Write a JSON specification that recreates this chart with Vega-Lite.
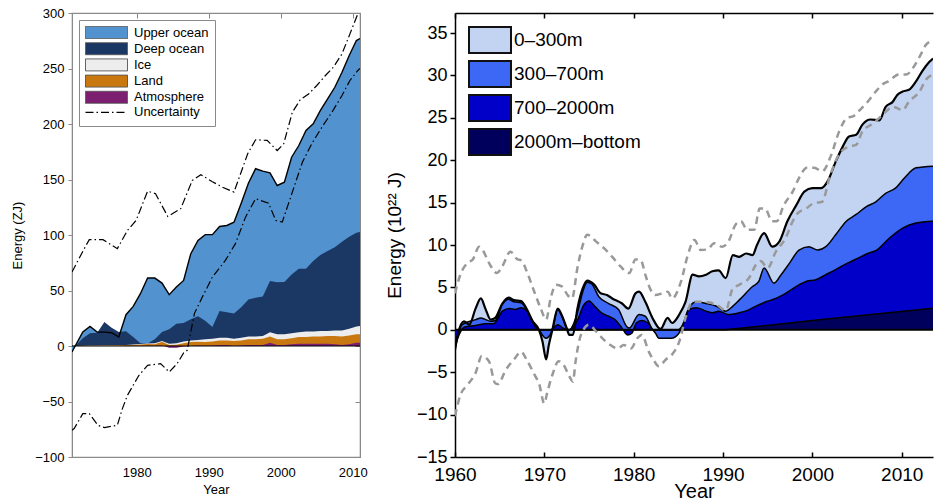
{
  "$schema": "https://vega.github.io/schema/vega-lite/v6.json",
  "padding": {"left": 11, "top": 6, "right": 0, "bottom": 0},
  "background": "white",
  "bounds": "flush",
  "spacing": 95,
  "config": {
    "font": "Liberation Sans",
    "axis": {"grid": false, "titleFontWeight": "normal", "labelColor": "black", "titleColor": "black"},
    "legend": {"titleFontWeight": "normal"}
  },
  "datasets": {
    "L": [
      {"x":1971,"t":-5.4,"d":0,"i":0,"l":0,"a":0},
      {"x":1971.5,"t":0.7,"d":0.5,"i":0.1,"l":0.1,"a":0},
      {"x":1972.5,"t":12.6,"d":7,"i":0.3,"l":0.2,"a":0},
      {"x":1973.5,"t":17.7,"d":11.5,"i":0.4,"l":0.3,"a":0},
      {"x":1974.5,"t":12.6,"d":12,"i":0.5,"l":0.3,"a":0},
      {"x":1975.5,"t":12.5,"d":21.6,"i":0.6,"l":0.4,"a":0},
      {"x":1976.5,"t":12,"d":16.5,"i":0.7,"l":0.5,"a":0},
      {"x":1977.5,"t":8.1,"d":12.6,"i":0.8,"l":0.6,"a":0},
      {"x":1978.5,"t":28.2,"d":13.2,"i":1,"l":0.8,"a":0},
      {"x":1979.5,"t":35.7,"d":8,"i":1.3,"l":1,"a":0},
      {"x":1980.5,"t":47.1,"d":2.5,"i":1.8,"l":1.3,"a":0},
      {"x":1981.5,"t":61.2,"d":2.3,"i":2.2,"l":1.8,"a":0.2},
      {"x":1982.5,"t":61.2,"d":6,"i":2.5,"l":1.6,"a":0.2},
      {"x":1983.5,"t":56.7,"d":12.6,"i":4.5,"l":3.8,"a":0.5},
      {"x":1984.5,"t":46.2,"d":15,"i":2,"l":1,"a":-1.5},
      {"x":1985.5,"t":53.1,"d":20.1,"i":2.5,"l":1.2,"a":-1.5},
      {"x":1986.5,"t":59.1,"d":20.7,"i":4,"l":2.5,"a":-0.5},
      {"x":1987.5,"t":83.2,"d":24,"i":5,"l":3.5,"a":0},
      {"x":1988.5,"t":95.1,"d":26.7,"i":5.5,"l":3.8,"a":0.5},
      {"x":1989.5,"t":100.3,"d":22.7,"i":6,"l":3.5,"a":0.3},
      {"x":1990.5,"t":100.3,"d":17.1,"i":6.5,"l":4,"a":0.5},
      {"x":1991.5,"t":107.7,"d":31.5,"i":7.5,"l":5,"a":1},
      {"x":1992.5,"t":108.6,"d":30.5,"i":7.5,"l":5,"a":0.8},
      {"x":1993.5,"t":111.6,"d":29.2,"i":6.5,"l":4.5,"a":0},
      {"x":1994.5,"t":128.7,"d":35,"i":7.5,"l":5,"a":0.5},
      {"x":1995.5,"t":146.7,"d":41.8,"i":8.5,"l":6,"a":1},
      {"x":1996.5,"t":159.7,"d":43.5,"i":8.5,"l":6,"a":1},
      {"x":1997.5,"t":157.5,"d":44.7,"i":9,"l":6.5,"a":1},
      {"x":1998.5,"t":156,"d":58.5,"i":12.5,"l":8.5,"a":3},
      {"x":1999.5,"t":144.6,"d":57.5,"i":10.5,"l":6,"a":1},
      {"x":2000.5,"t":147.6,"d":57.6,"i":10.5,"l":6,"a":1},
      {"x":2001.5,"t":170.1,"d":64.5,"i":11.5,"l":7,"a":1.5},
      {"x":2002.5,"t":180.6,"d":69.6,"i":12.5,"l":8,"a":2},
      {"x":2003.5,"t":194.2,"d":69.6,"i":13,"l":8,"a":2},
      {"x":2004.5,"t":200.2,"d":76.5,"i":13,"l":8.5,"a":2},
      {"x":2005.5,"t":212.2,"d":82,"i":13.5,"l":8.5,"a":2},
      {"x":2006.5,"t":222.7,"d":85.5,"i":13.5,"l":9,"a":2},
      {"x":2007.5,"t":233.1,"d":89,"i":14,"l":9,"a":1.5},
      {"x":2008.5,"t":246.6,"d":94,"i":14,"l":8.5,"a":1},
      {"x":2009.5,"t":261.7,"d":98.5,"i":15.5,"l":9.5,"a":1.5},
      {"x":2010.5,"t":275.2,"d":102,"i":17.5,"l":10.5,"a":3},
      {"x":2011,"t":277,"d":102.6,"i":18,"l":10.5,"a":3}
    ],
    "LU": [
      {"s":"hi","x":1971,"v":66.6},{"s":"hi","x":1972.7,"v":87.7},{"s":"hi","x":1973.4,"v":95.8},{"s":"hi","x":1975.3,"v":95.8},
      {"s":"hi","x":1977.3,"v":87.7},{"s":"hi","x":1978.7,"v":104.1},{"s":"hi","x":1979.9,"v":113.1},{"s":"hi","x":1981.5,"v":139.5},
      {"s":"hi","x":1982.6,"v":137.2},{"s":"hi","x":1984.3,"v":116.7},{"s":"hi","x":1986.1,"v":123.7},{"s":"hi","x":1987.7,"v":149.1},
      {"s":"hi","x":1988.9,"v":154.3},{"s":"hi","x":1990.5,"v":148},{"s":"hi","x":1991.9,"v":143.1},{"s":"hi","x":1993.5,"v":138.6},
      {"s":"hi","x":1995.4,"v":173.2},{"s":"hi","x":1996.5,"v":185.8},{"s":"hi","x":1998.1,"v":185.2},{"s":"hi","x":1999.5,"v":176.1},
      {"s":"hi","x":2000.4,"v":182.1},{"s":"hi","x":2001.6,"v":210.6},{"s":"hi","x":2002.7,"v":221.8},{"s":"hi","x":2003.9,"v":227.2},
      {"s":"hi","x":2005,"v":234.7},{"s":"hi","x":2006.2,"v":243.7},{"s":"hi","x":2007.3,"v":251.2},{"s":"hi","x":2008.5,"v":263.2},
      {"s":"hi","x":2009.6,"v":281.2},{"s":"hi","x":2010.7,"v":299.2},{"s":"hi","x":2011,"v":302},
      {"s":"lo","x":1971,"v":-76},{"s":"lo","x":1971.3,"v":-74.4},{"s":"lo","x":1972.5,"v":-60.9},{"s":"lo","x":1973.4,"v":-60.9},
      {"s":"lo","x":1974.6,"v":-71.4},{"s":"lo","x":1975.5,"v":-73.5},{"s":"lo","x":1977.3,"v":-71.4},{"s":"lo","x":1978,"v":-56.4},
      {"s":"lo","x":1978.7,"v":-44.4},{"s":"lo","x":1980.3,"v":-26.4},{"s":"lo","x":1981.5,"v":-17.4},{"s":"lo","x":1983.3,"v":-15.9},
      {"s":"lo","x":1984.5,"v":-23.4},{"s":"lo","x":1985.6,"v":-15.9},{"s":"lo","x":1986.5,"v":-6.3},{"s":"lo","x":1987,"v":-3.9},
      {"s":"lo","x":1988,"v":29.2},{"s":"lo","x":1989.1,"v":44.1},{"s":"lo","x":1990.5,"v":62.1},{"s":"lo","x":1992.3,"v":77.1},
      {"s":"lo","x":1993.7,"v":92.2},{"s":"lo","x":1995.1,"v":116.1},{"s":"lo","x":1996.5,"v":132.7},{"s":"lo","x":1998.3,"v":128.7},
      {"s":"lo","x":1999.3,"v":113.1},{"s":"lo","x":2000.2,"v":111.6},{"s":"lo","x":2001.6,"v":138.6},{"s":"lo","x":2003,"v":165.6},
      {"s":"lo","x":2004.3,"v":182.2},{"s":"lo","x":2005.7,"v":197.1},{"s":"lo","x":2007.1,"v":210.6},{"s":"lo","x":2008.5,"v":225.7},
      {"s":"lo","x":2009.6,"v":239.2},{"s":"lo","x":2010.7,"v":248.2},{"s":"lo","x":2011,"v":250}
    ],
    "R": [
      {"s":"T","x":1960,"v":-2.4},{"s":"T","x":1960.3,"v":-0.6},{"s":"T","x":1961,"v":1.0},{"s":"T","x":1961.6,"v":0.6},
      {"s":"T","x":1962.3,"v":2.5},{"s":"T","x":1962.9,"v":3.7},{"s":"T","x":1963.4,"v":2.5},{"s":"T","x":1964,"v":1.2},
      {"s":"T","x":1964.5,"v":1.4},{"s":"T","x":1965.3,"v":3.1},{"s":"T","x":1966,"v":3.8},{"s":"T","x":1966.6,"v":3.5},
      {"s":"T","x":1967.4,"v":3.4},{"s":"T","x":1968,"v":2.5},{"s":"T","x":1968.7,"v":1.0},{"s":"T","x":1969.4,"v":0},
      {"s":"T","x":1969.8,"v":-1.4},{"s":"T","x":1970.2,"v":-3.5},{"s":"T","x":1970.5,"v":-1.8},{"s":"T","x":1970.9,"v":0},
      {"s":"T","x":1971.5,"v":2.5},{"s":"T","x":1972,"v":1.6},{"s":"T","x":1972.5,"v":0.2},{"s":"T","x":1972.8,"v":-0.6},
      {"s":"T","x":1973.2,"v":-0.6},{"s":"T","x":1973.7,"v":2.5},{"s":"T","x":1974.3,"v":4.9},{"s":"T","x":1974.8,"v":5.8},
      {"s":"T","x":1975.6,"v":5.3},{"s":"T","x":1976.3,"v":4.3},{"s":"T","x":1977,"v":4.1},{"s":"T","x":1977.6,"v":3.7},
      {"s":"T","x":1978.7,"v":3.1},{"s":"T","x":1979.4,"v":2.5},{"s":"T","x":1980.2,"v":4.3},{"s":"T","x":1980.6,"v":4.5},
      {"s":"T","x":1981.3,"v":3.3},{"s":"T","x":1982.1,"v":1.4},{"s":"T","x":1983,"v":0.1},{"s":"T","x":1983.8,"v":1.4},
      {"s":"T","x":1984.3,"v":0.8},{"s":"T","x":1985.1,"v":1.8},{"s":"T","x":1985.8,"v":3.3},{"s":"T","x":1986.6,"v":6.5},
      {"s":"T","x":1987.3,"v":6.3},{"s":"T","x":1988.1,"v":6.5},{"s":"T","x":1988.8,"v":6.9},{"s":"T","x":1989.5,"v":7.0},
      {"s":"T","x":1990.3,"v":6.1},{"s":"T","x":1991.1,"v":8.8},{"s":"T","x":1991.8,"v":8.6},{"s":"T","x":1992.6,"v":9.0},
      {"s":"T","x":1993.3,"v":8.8},{"s":"T","x":1993.8,"v":10.0},{"s":"T","x":1994.6,"v":11.4},{"s":"T","x":1995.5,"v":9.8},
      {"s":"T","x":1996.3,"v":10.4},{"s":"T","x":1997.2,"v":12.8},{"s":"T","x":1998.2,"v":14.7},{"s":"T","x":1999.1,"v":16.3},
      {"s":"T","x":2000,"v":16.7},{"s":"T","x":2001,"v":16.7},{"s":"T","x":2001.7,"v":17.5},{"s":"T","x":2002.6,"v":19.8},
      {"s":"T","x":2003.4,"v":21.6},{"s":"T","x":2004.1,"v":22.8},{"s":"T","x":2004.9,"v":23.0},{"s":"T","x":2005.6,"v":24.2},
      {"s":"T","x":2006.5,"v":24.8},{"s":"T","x":2007.5,"v":24.7},{"s":"T","x":2008.2,"v":26.3},{"s":"T","x":2009,"v":26.9},
      {"s":"T","x":2009.5,"v":27.7},{"s":"T","x":2010.1,"v":28.1},{"s":"T","x":2010.8,"v":28.3},{"s":"T","x":2011.6,"v":29.3},
      {"s":"T","x":2012.3,"v":30.5},{"s":"T","x":2013.1,"v":31.6},{"s":"T","x":2013.5,"v":32.0},
      {"s":"M","x":1960,"v":-2.2},{"s":"M","x":1960.8,"v":0.6},{"s":"M","x":1962.3,"v":1.2},{"s":"M","x":1962.9,"v":1.4},
      {"s":"M","x":1964,"v":1.0},{"s":"M","x":1964.5,"v":1.1},{"s":"M","x":1965.3,"v":3.0},{"s":"M","x":1966,"v":3.6},
      {"s":"M","x":1966.6,"v":3.3},{"s":"M","x":1967.4,"v":3.2},{"s":"M","x":1968,"v":2.4},{"s":"M","x":1968.7,"v":1.0},
      {"s":"M","x":1969.4,"v":0},{"s":"M","x":1970.2,"v":-1.0},{"s":"M","x":1970.9,"v":0},{"s":"M","x":1971.5,"v":2.4},
      {"s":"M","x":1972,"v":1.5},{"s":"M","x":1972.5,"v":0.2},{"s":"M","x":1972.8,"v":0},{"s":"M","x":1973.7,"v":2.0},
      {"s":"M","x":1974.3,"v":4.5},{"s":"M","x":1974.8,"v":5.6},{"s":"M","x":1975.3,"v":5.4},{"s":"M","x":1976.1,"v":3.9},
      {"s":"M","x":1977.2,"v":3.1},{"s":"M","x":1978.3,"v":2.4},{"s":"M","x":1979.2,"v":0.4},{"s":"M","x":1979.5,"v":0.2},
      {"s":"M","x":1980.6,"v":1.8},{"s":"M","x":1981.3,"v":1.6},{"s":"M","x":1982,"v":0.2},{"s":"M","x":1982.5,"v":-0.5},
      {"s":"M","x":1982.8,"v":-1.0},{"s":"M","x":1984.2,"v":-1.0},{"s":"M","x":1985,"v":-0.5},{"s":"M","x":1985.5,"v":0.6},
      {"s":"M","x":1986.2,"v":2.6},{"s":"M","x":1987,"v":3.3},{"s":"M","x":1988.1,"v":3.1},{"s":"M","x":1989.2,"v":2.8},
      {"s":"M","x":1990.3,"v":2.2},{"s":"M","x":1991.1,"v":2.8},{"s":"M","x":1991.8,"v":3.5},{"s":"M","x":1993.3,"v":5.1},
      {"s":"M","x":1994,"v":5.7},{"s":"M","x":1994.6,"v":7.3},{"s":"M","x":1995.7,"v":5.5},{"s":"M","x":1996.5,"v":6.5},
      {"s":"M","x":1997.4,"v":7.8},{"s":"M","x":1998.5,"v":9.4},{"s":"M","x":1999.6,"v":9.8},{"s":"M","x":2000.6,"v":9.4},
      {"s":"M","x":2001.5,"v":9.8},{"s":"M","x":2002.6,"v":11.2},{"s":"M","x":2003.8,"v":12.8},{"s":"M","x":2004.9,"v":13.6},
      {"s":"M","x":2006,"v":14.5},{"s":"M","x":2007.1,"v":15.1},{"s":"M","x":2008.2,"v":16.1},{"s":"M","x":2009.3,"v":16.7},
      {"s":"M","x":2010.3,"v":17.9},{"s":"M","x":2011.6,"v":19.1},{"s":"M","x":2013.5,"v":19.3},
      {"s":"D","x":1960,"v":-2.0},{"s":"D","x":1960.5,"v":-0.5},{"s":"D","x":1961,"v":0.3},{"s":"D","x":1962.3,"v":0.5},
      {"s":"D","x":1963.4,"v":0.7},{"s":"D","x":1964.3,"v":0.7},{"s":"D","x":1965.3,"v":2.2},{"s":"D","x":1966.1,"v":2.5},
      {"s":"D","x":1966.7,"v":2.4},{"s":"D","x":1967.4,"v":2.6},{"s":"D","x":1968,"v":2.3},{"s":"D","x":1968.9,"v":0.5},
      {"s":"D","x":1969.4,"v":0},{"s":"D","x":1970.7,"v":0},{"s":"D","x":1971.5,"v":0.6},{"s":"D","x":1972.1,"v":0.2},
      {"s":"D","x":1972.8,"v":0},{"s":"D","x":1973.7,"v":1.1},{"s":"D","x":1974.4,"v":2.9},{"s":"D","x":1975,"v":3.4},
      {"s":"D","x":1975.7,"v":2.7},{"s":"D","x":1976.4,"v":2.0},{"s":"D","x":1977.2,"v":1.6},{"s":"D","x":1977.9,"v":1.2},
      {"s":"D","x":1978.7,"v":0.2},{"s":"D","x":1979.3,"v":-0.6},{"s":"D","x":1979.8,"v":-0.4},{"s":"D","x":1980.3,"v":0.8},
      {"s":"D","x":1980.9,"v":1.1},{"s":"D","x":1981.6,"v":0.8},{"s":"D","x":1982.2,"v":0},{"s":"D","x":1985,"v":0},
      {"s":"D","x":1985.5,"v":0.6},{"s":"D","x":1986.2,"v":2.4},{"s":"D","x":1987,"v":2.6},{"s":"D","x":1988.1,"v":2.2},
      {"s":"D","x":1988.8,"v":2.0},{"s":"D","x":1989.5,"v":2.2},{"s":"D","x":1990.6,"v":1.8},{"s":"D","x":1991.8,"v":2.0},
      {"s":"D","x":1992.5,"v":2.2},{"s":"D","x":1993.7,"v":2.8},{"s":"D","x":1994.8,"v":3.3},{"s":"D","x":1995.9,"v":3.7},
      {"s":"D","x":1997,"v":4.3},{"s":"D","x":1998.5,"v":5.3},{"s":"D","x":1999.3,"v":5.7},{"s":"D","x":2000.4,"v":5.9},
      {"s":"D","x":2001.5,"v":6.5},{"s":"D","x":2002.6,"v":7.1},{"s":"D","x":2004,"v":7.9},{"s":"D","x":2005,"v":8.4},
      {"s":"D","x":2006.2,"v":9.0},{"s":"D","x":2007.2,"v":9.4},{"s":"D","x":2008.6,"v":10.8},{"s":"D","x":2010.1,"v":12.0},
      {"s":"D","x":2011.6,"v":12.6},{"s":"D","x":2013.5,"v":12.8},
      {"s":"B","x":1960,"v":0},{"s":"B","x":1990.3,"v":0},{"s":"B","x":2000,"v":1.1},{"s":"B","x":2013.5,"v":2.55}
    ],
    "RU": [
      {"s":"hi","x":1960,"v":4.3},{"s":"hi","x":1960.6,"v":6.5},{"s":"hi","x":1961.4,"v":7.9},{"s":"hi","x":1962,"v":8.3},
      {"s":"hi","x":1962.7,"v":9.8},{"s":"hi","x":1963.1,"v":9.4},{"s":"hi","x":1963.8,"v":7.9},{"s":"hi","x":1964.7,"v":6.7},
      {"s":"hi","x":1965.3,"v":7.5},{"s":"hi","x":1966.2,"v":9.2},{"s":"hi","x":1967,"v":8.3},{"s":"hi","x":1967.4,"v":8.2},
      {"s":"hi","x":1968.1,"v":6.7},{"s":"hi","x":1968.8,"v":4.7},{"s":"hi","x":1969.6,"v":2.5},{"s":"hi","x":1970.2,"v":1.2},
      {"s":"hi","x":1970.7,"v":3.7},{"s":"hi","x":1971.3,"v":5.3},{"s":"hi","x":1972,"v":5.1},{"s":"hi","x":1972.6,"v":4.1},
      {"s":"hi","x":1973.1,"v":3.7},{"s":"hi","x":1973.7,"v":7.3},{"s":"hi","x":1974.3,"v":10.0},{"s":"hi","x":1974.8,"v":11.2},
      {"s":"hi","x":1975.8,"v":10.4},{"s":"hi","x":1976.7,"v":9.6},{"s":"hi","x":1977.6,"v":8.6},{"s":"hi","x":1978.5,"v":7.5},
      {"s":"hi","x":1979.5,"v":6.7},{"s":"hi","x":1980.2,"v":8.3},{"s":"hi","x":1980.8,"v":8.2},{"s":"hi","x":1981.3,"v":6.5},
      {"s":"hi","x":1981.9,"v":4.7},{"s":"hi","x":1982.4,"v":4.1},{"s":"hi","x":1983.2,"v":4.3},{"s":"hi","x":1983.8,"v":4.5},
      {"s":"hi","x":1984.3,"v":3.7},{"s":"hi","x":1985.3,"v":5.7},{"s":"hi","x":1986,"v":8.6},{"s":"hi","x":1986.8,"v":10.6},
      {"s":"hi","x":1987.5,"v":9.4},{"s":"hi","x":1988.3,"v":9.5},{"s":"hi","x":1989,"v":10.2},{"s":"hi","x":1989.9,"v":9.8},
      {"s":"hi","x":1990.6,"v":10.4},{"s":"hi","x":1991.4,"v":12.4},{"s":"hi","x":1992,"v":12.8},{"s":"hi","x":1992.7,"v":11.8},
      {"s":"hi","x":1993.5,"v":11.8},{"s":"hi","x":1994.1,"v":14.3},{"s":"hi","x":1994.7,"v":14.3},{"s":"hi","x":1995.5,"v":12.8},
      {"s":"hi","x":1996,"v":12.8},{"s":"hi","x":1996.8,"v":14.7},{"s":"hi","x":1997.8,"v":16.3},{"s":"hi","x":1998.5,"v":17.9},
      {"s":"hi","x":1999.4,"v":19.1},{"s":"hi","x":2000.2,"v":19.1},{"s":"hi","x":2001.1,"v":18.7},{"s":"hi","x":2002.1,"v":20.6},
      {"s":"hi","x":2003,"v":23.4},{"s":"hi","x":2003.9,"v":25.0},{"s":"hi","x":2004.6,"v":25.2},{"s":"hi","x":2005.3,"v":25.9},
      {"s":"hi","x":2006.2,"v":26.9},{"s":"hi","x":2007.1,"v":28.1},{"s":"hi","x":2007.8,"v":28.9},{"s":"hi","x":2008.5,"v":29.3},
      {"s":"hi","x":2009.7,"v":30.1},{"s":"hi","x":2010.5,"v":30.1},{"s":"hi","x":2011.2,"v":30.8},{"s":"hi","x":2012.2,"v":32.6},
      {"s":"hi","x":2012.7,"v":33.6},{"s":"hi","x":2013.5,"v":34.1},
      {"s":"lo","x":1960,"v":-10.2},{"s":"lo","x":1960.6,"v":-7.7},{"s":"lo","x":1961.4,"v":-6.5},{"s":"lo","x":1962.3,"v":-5.1},
      {"s":"lo","x":1963,"v":-3.1},{"s":"lo","x":1963.8,"v":-3.7},{"s":"lo","x":1964.5,"v":-6.3},{"s":"lo","x":1964.8,"v":-6.4},
      {"s":"lo","x":1965.7,"v":-4.7},{"s":"lo","x":1966.6,"v":-3.5},{"s":"lo","x":1967.4,"v":-2.6},{"s":"lo","x":1968.1,"v":-3.7},
      {"s":"lo","x":1969,"v":-5.5},{"s":"lo","x":1969.4,"v":-6.3},{"s":"lo","x":1970,"v":-8.7},{"s":"lo","x":1970.3,"v":-7.5},
      {"s":"lo","x":1970.9,"v":-5.3},{"s":"lo","x":1971.6,"v":-3.7},{"s":"lo","x":1972.2,"v":-4.2},{"s":"lo","x":1972.8,"v":-5.5},
      {"s":"lo","x":1973.2,"v":-6.1},{"s":"lo","x":1973.5,"v":-3.7},{"s":"lo","x":1974.1,"v":-0.6},{"s":"lo","x":1975,"v":0.6},
      {"s":"lo","x":1975.8,"v":-0.2},{"s":"lo","x":1976.5,"v":-1.0},{"s":"lo","x":1977.4,"v":-1.8},{"s":"lo","x":1978.2,"v":-2.2},
      {"s":"lo","x":1978.9,"v":-1.8},{"s":"lo","x":1979.7,"v":-2.2},{"s":"lo","x":1980.4,"v":-1.0},{"s":"lo","x":1980.9,"v":-0.6},
      {"s":"lo","x":1981.7,"v":-2.6},{"s":"lo","x":1982.3,"v":-3.7},{"s":"lo","x":1982.8,"v":-4.3},{"s":"lo","x":1983.6,"v":-3.5},
      {"s":"lo","x":1984.3,"v":-2.9},{"s":"lo","x":1985.1,"v":-1.4},{"s":"lo","x":1985.8,"v":1.4},{"s":"lo","x":1986.6,"v":3.3},
      {"s":"lo","x":1987.7,"v":3.3},{"s":"lo","x":1989.2,"v":3.0},{"s":"lo","x":1990.3,"v":2.3},{"s":"lo","x":1991.1,"v":4.9},
      {"s":"lo","x":1991.8,"v":5.3},{"s":"lo","x":1992.9,"v":6.1},{"s":"lo","x":1993.7,"v":7.7},{"s":"lo","x":1994.2,"v":8.1},
      {"s":"lo","x":1995,"v":7.3},{"s":"lo","x":1995.9,"v":9.2},{"s":"lo","x":1997,"v":10.8},{"s":"lo","x":1997.8,"v":12.8},
      {"s":"lo","x":1998.4,"v":13.8},{"s":"lo","x":1999.3,"v":14.3},{"s":"lo","x":2000.1,"v":14.9},{"s":"lo","x":2001.1,"v":15.1},
      {"s":"lo","x":2001.9,"v":17.9},{"s":"lo","x":2002.6,"v":19.9},{"s":"lo","x":2003.2,"v":21.0},{"s":"lo","x":2004.1,"v":21.6},
      {"s":"lo","x":2004.9,"v":21.8},{"s":"lo","x":2005.6,"v":23.4},{"s":"lo","x":2006.6,"v":24.2},{"s":"lo","x":2007.5,"v":25.0},
      {"s":"lo","x":2008.2,"v":25.7},{"s":"lo","x":2009,"v":26.3},{"s":"lo","x":2010.1,"v":25.9},{"s":"lo","x":2010.8,"v":26.9},
      {"s":"lo","x":2012,"v":28.1},{"s":"lo","x":2012.7,"v":29.5},{"s":"lo","x":2013.5,"v":30.1}
    ]
  },
  "hconcat": [
    {
      "width": 288,
      "height": 444,
      "view": {"stroke": "#8a8a8a", "strokeWidth": 1.2},
      "layer": [
        {
          "data": {"name": "L"},
          "mark": {"type": "area", "clip": true},
          "encoding": {
            "x": {"field": "x", "type": "quantitative", "scale": {"domain": [1971, 2011], "nice": false, "zero": false},
              "axis": {"orient": "bottom", "values": [1980, 1990, 2000, 2010], "format": "d", "title": "Year", "titleFontSize": 13, "labelFontSize": 13, "ticks": false, "labelFlush": false, "labelPadding": 9, "titlePadding": 4, "domainColor": "#8a8a8a"}},
            "y": {"field": "t", "type": "quantitative", "scale": {"domain": [-100, 300], "nice": false},
              "axis": {"orient": "left", "values": [-100, -50, 0, 50, 100, 150, 200, 250, 300], "title": "Energy (ZJ)", "titleFontSize": 13, "labelFontSize": 13, "tickSize": 4, "tickColor": "#8a8a8a", "domainColor": "#8a8a8a", "labelPadding": 4, "titlePadding": 10}},
            "y2": {"datum": 0},
            "color": {"datum": "Upper ocean", "type": "nominal",
              "scale": {"domain": ["Upper ocean", "Deep ocean", "Ice", "Land", "Atmosphere", "Uncertainty"], "range": ["#5192cf", "#1b3763", "#ededed", "#c8780f", "#7c1f70", "#000000"]},
              "legend": {"orient": "top-left", "offset": 7, "title": null, "padding": 6, "strokeColor": "#8a8a8a", "fillColor": "white",
                "symbolType": "M-3.5,-1H3.5V1H-3.5Z", "symbolSize": 144, "symbolOffset": 15, "labelOffset": 21, "rowPadding": -0.8,
                "symbolStrokeColor": "#555555", "symbolStrokeWidth": 1, "labelFontSize": 13, "labelFont": "Liberation Sans", "labelColor": "black",
                "encode": {"symbols": {"update": {
                  "shape": {"signal": "datum.value === 'Uncertainty' ? 'M-3.5,0H3.5' : 'M-3.5,-1H3.5V1H-3.5Z'"},
                  "strokeDash": {"signal": "datum.value === 'Uncertainty' ? [8,3,1.5,3] : [1,0]"},
                  "stroke": {"signal": "datum.value === 'Uncertainty' ? 'black' : '#555555'"},
                  "fillOpacity": {"signal": "datum.value === 'Uncertainty' ? 0 : 1"},
                  "strokeWidth": {"signal": "datum.value === 'Uncertainty' ? 1.3 : 1"}
                }}}}}
          }
        },
        {
          "data": {"name": "L"},
          "mark": {"type": "area", "clip": true},
          "encoding": {"x": {"field": "x", "type": "quantitative", "axis": null}, "y": {"field": "d", "type": "quantitative", "axis": null}, "y2": {"datum": 0}, "color": {"datum": "Deep ocean", "type": "nominal"}}
        },
        {
          "data": {"name": "L"},
          "mark": {"type": "area", "clip": true},
          "encoding": {"x": {"field": "x", "type": "quantitative", "axis": null}, "y": {"field": "i", "type": "quantitative", "axis": null}, "y2": {"datum": 0}, "color": {"datum": "Ice", "type": "nominal"}}
        },
        {
          "data": {"name": "L"},
          "mark": {"type": "area", "clip": true},
          "encoding": {"x": {"field": "x", "type": "quantitative", "axis": null}, "y": {"field": "l", "type": "quantitative", "axis": null}, "y2": {"datum": 0}, "color": {"datum": "Land", "type": "nominal"}}
        },
        {
          "data": {"name": "L"},
          "mark": {"type": "area", "clip": true},
          "encoding": {"x": {"field": "x", "type": "quantitative", "axis": null}, "y": {"field": "a", "type": "quantitative", "axis": null}, "y2": {"datum": 0}, "color": {"datum": "Atmosphere", "type": "nominal"}}
        },
        {
          "data": {"name": "L"},
          "mark": {"type": "line", "clip": true, "color": "black", "strokeWidth": 1.4},
          "encoding": {"x": {"field": "x", "type": "quantitative", "axis": null}, "y": {"field": "t", "type": "quantitative", "axis": null}}
        },
        {
          "data": {"values": [{}]},
          "mark": {"type": "rule", "color": "black", "strokeWidth": 1},
          "encoding": {"y": {"datum": 0, "type": "quantitative", "axis": null}}
        },
        {
          "data": {"name": "LU"},
          "mark": {"type": "line", "clip": true, "color": "black", "strokeWidth": 1.2, "strokeDash": [8, 3, 1.5, 3]},
          "encoding": {
            "x": {"field": "x", "type": "quantitative", "axis": {"orient": "top", "values": [1980, 1990, 2000, 2010], "labels": false, "title": null, "tickSize": -5, "tickColor": "#8a8a8a", "domainColor": "#8a8a8a"}},
            "y": {"field": "v", "type": "quantitative", "axis": {"orient": "right", "values": [-100, -50, 0, 50, 100, 150, 200, 250, 300], "labels": false, "title": null, "tickSize": -5, "tickColor": "#8a8a8a", "domainColor": "#8a8a8a"}},
            "detail": {"field": "s"}
          }
        }
      ]
    },
    {
      "width": 478,
      "height": 444,
      "view": {"stroke": null},
      "layer": [
        {
          "data": {"name": "R"},
          "transform": [{"filter": "datum.s === 'T'"}],
          "mark": {"type": "area", "clip": true, "interpolate": "monotone"},
          "encoding": {
            "x": {"field": "x", "type": "quantitative", "scale": {"domain": [1960, 2013.5], "nice": false, "zero": false},
              "axis": {"orient": "bottom", "values": [1960, 1970, 1980, 1990, 2000, 2010], "format": "d", "title": "Year", "titleFontSize": 20, "labelFontSize": 19, "labelFlush": false, "tickSize": -5, "tickColor": "black", "domainColor": "black", "domainWidth": 1.5, "tickWidth": 1.5, "labelPadding": 13, "titlePadding": -3}},
            "y": {"field": "v", "type": "quantitative", "scale": {"domain": [-15, 37.36], "nice": false},
              "axis": {"orient": "left", "values": [-15, -10, -5, 0, 5, 10, 15, 20, 25, 30, 35], "title": "Energy (10²² J)", "titleFontSize": 19, "labelFontSize": 18, "tickSize": 5, "tickColor": "black", "domainColor": "black", "domainWidth": 1.5, "tickWidth": 1.5, "labelPadding": 3, "titlePadding": 12}},
            "y2": {"datum": 0},
            "color": {"datum": "0–300m", "type": "nominal",
              "scale": {"domain": ["0–300m", "300–700m", "700–2000m", "2000m–bottom"], "range": ["#c2d4f2", "#3c68f5", "#0000c8", "#00005c"]},
              "legend": {"orient": "top-left", "offset": 13, "title": null, "padding": 0,
                "symbolType": "M-1.615,-1H1.615V1H-1.615Z", "symbolSize": 676, "symbolOffset": 8, "labelOffset": 10, "rowPadding": 0,
                "symbolStrokeColor": "#111111", "symbolStrokeWidth": 2, "labelFontSize": 19, "labelFont": "Liberation Sans", "labelColor": "black"}}
          }
        },
        {
          "data": {"name": "R"},
          "transform": [{"filter": "datum.s === 'M'"}],
          "mark": {"type": "area", "clip": true, "interpolate": "monotone"},
          "encoding": {"x": {"field": "x", "type": "quantitative", "axis": null}, "y": {"field": "v", "type": "quantitative", "axis": null}, "y2": {"datum": 0}, "color": {"datum": "300–700m", "type": "nominal"}}
        },
        {
          "data": {"name": "R"},
          "transform": [{"filter": "datum.s === 'D'"}],
          "mark": {"type": "area", "clip": true, "interpolate": "monotone"},
          "encoding": {"x": {"field": "x", "type": "quantitative", "axis": null}, "y": {"field": "v", "type": "quantitative", "axis": null}, "y2": {"datum": 0}, "color": {"datum": "700–2000m", "type": "nominal"}}
        },
        {
          "data": {"name": "R"},
          "transform": [{"filter": "datum.s === 'B'"}],
          "mark": {"type": "area", "clip": true},
          "encoding": {"x": {"field": "x", "type": "quantitative", "axis": null}, "y": {"field": "v", "type": "quantitative", "axis": null}, "y2": {"datum": 0}, "color": {"datum": "2000m–bottom", "type": "nominal"}}
        },
        {
          "data": {"name": "R"},
          "transform": [{"filter": "datum.s !== 'T' && datum.s !== 'B'"}],
          "mark": {"type": "line", "clip": true, "color": "black", "strokeWidth": 1.5, "interpolate": "monotone"},
          "encoding": {"x": {"field": "x", "type": "quantitative", "axis": null}, "y": {"field": "v", "type": "quantitative", "axis": null}, "detail": {"field": "s"}}
        },
        {
          "data": {"name": "R"},
          "transform": [{"filter": "datum.s === 'B'"}],
          "mark": {"type": "line", "clip": true, "color": "black", "strokeWidth": 1.5},
          "encoding": {"x": {"field": "x", "type": "quantitative", "axis": null}, "y": {"field": "v", "type": "quantitative", "axis": null}}
        },
        {
          "data": {"name": "R"},
          "transform": [{"filter": "datum.s === 'T'"}],
          "mark": {"type": "line", "clip": true, "color": "black", "strokeWidth": 2.2, "interpolate": "monotone"},
          "encoding": {"x": {"field": "x", "type": "quantitative", "axis": null}, "y": {"field": "v", "type": "quantitative", "axis": null}}
        },
        {
          "data": {"values": [{}]},
          "mark": {"type": "rule", "color": "black", "strokeWidth": 2},
          "encoding": {"y": {"datum": 0, "type": "quantitative", "axis": null}}
        },
        {
          "data": {"name": "RU"},
          "mark": {"type": "line", "clip": true, "color": "#999999", "strokeWidth": 2.5, "strokeDash": [7, 5], "interpolate": "monotone"},
          "encoding": {
            "x": {"field": "x", "type": "quantitative", "axis": {"orient": "top", "values": [1960, 1970, 1980, 1990, 2000, 2010], "labels": false, "title": null, "tickSize": -5, "tickColor": "black", "domainColor": "black", "domainWidth": 1.5, "tickWidth": 1.5}},
            "y": {"field": "v", "type": "quantitative", "axis": {"orient": "right", "labels": false, "ticks": false, "domain": false, "title": null}},
            "detail": {"field": "s"}
          }
        }
      ]
    }
  ],
  "resolve": {"scale": {"color": "independent", "x": "independent", "y": "independent"}, "legend": {"color": "independent"}}
}
